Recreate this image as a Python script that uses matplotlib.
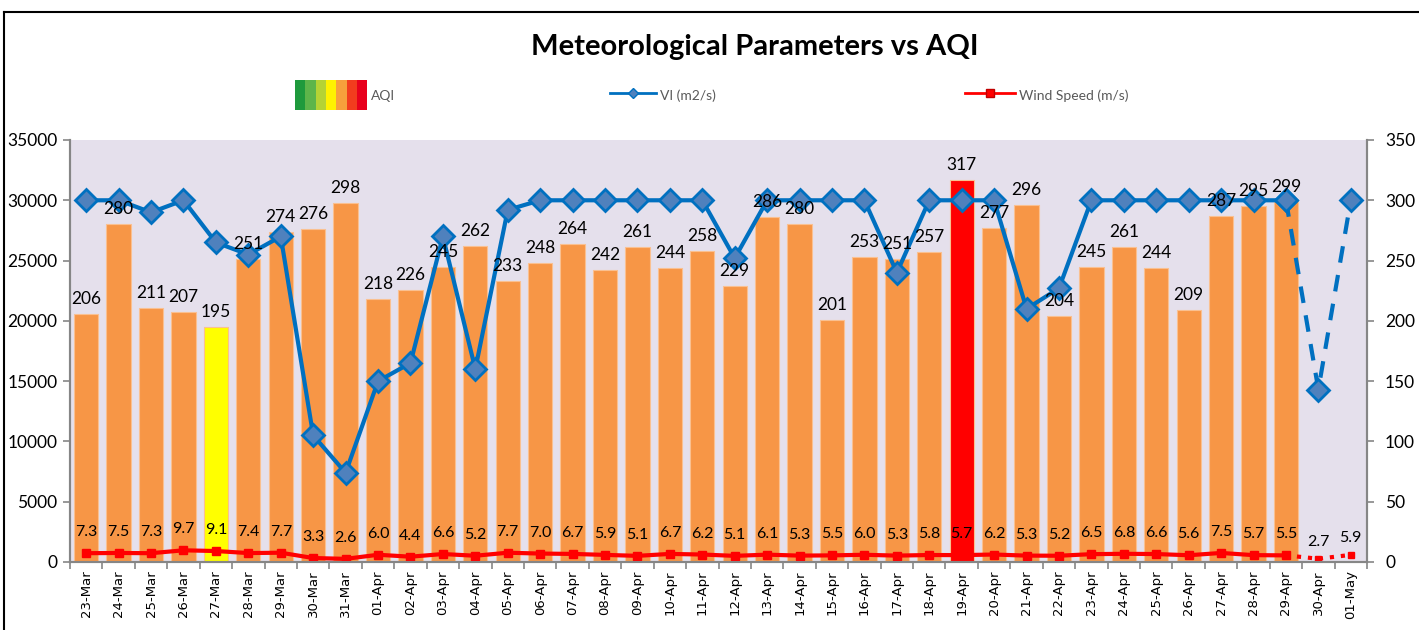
import matplotlib
matplotlib.use('Agg')
import matplotlib.pyplot as plt
from matplotlib.lines import Line2D
from matplotlib.patches import Rectangle
from matplotlib.legend_handler import HandlerBase

dates = ['23-Mar', '24-Mar', '25-Mar', '26-Mar', '27-Mar', '28-Mar', '29-Mar', '30-Mar', '31-Mar',
         '01-Apr', '02-Apr', '03-Apr', '04-Apr', '05-Apr', '06-Apr', '07-Apr', '08-Apr', '09-Apr',
         '10-Apr', '11-Apr', '12-Apr', '13-Apr', '14-Apr', '15-Apr', '16-Apr', '17-Apr', '18-Apr',
         '19-Apr', '20-Apr', '21-Apr', '22-Apr', '23-Apr', '24-Apr', '25-Apr', '26-Apr', '27-Apr',
         '28-Apr', '29-Apr', '30-Apr', '01-May']

aqi = [206, 280, 211, 207, 195, 251, 274, 276, 298, 218, 226, 245, 262, 233, 248, 264, 242, 261,
       244, 258, 229, 286, 280, 201, 253, 251, 257, 317, 277, 296, 204, 245, 261, 244, 209, 287,
       295, 299]

vi = [30000, 30000, 29000, 30000, 26500, 25500, 27000, 10500, 7400, 15000, 16500, 27000, 16000,
      29200, 30000, 30000, 30000, 30000, 30000, 30000, 25200, 30000, 30000, 30000, 30000, 24000,
      30000, 30000, 30000, 21000, 22700, 30000, 30000, 30000, 30000, 30000, 30000, 30000, 14300,
      30000]

wind = [7.3, 7.5, 7.3, 9.7, 9.1, 7.4, 7.7, 3.3, 2.6, 6.0, 4.4, 6.6, 5.2, 7.7, 7.0, 6.7, 5.9, 5.1,
        6.7, 6.2, 5.1, 6.1, 5.3, 5.5, 6.0, 5.3, 5.8, 5.7, 6.2, 5.3, 5.2, 6.5, 6.8, 6.6, 5.6, 7.5,
        5.7, 5.5, 2.7, 5.9]


def aqi_color(v):
    if v <= 200:
        return '#FFFF00'
    if v <= 300:
        return '#F79646'
    return '#FF0000'


class GradientHandler(HandlerBase):
    def create_artists(self, legend, orig_handle, xdescent, ydescent, width, height, fontsize, trans):
        cols = ['#1E9A3C', '#5DB54A', '#B5D334', '#FFF200', '#F7A03C', '#F23C1E', '#E8001C']
        w = width / len(cols)
        h = fontsize * 2.2
        y0 = -ydescent + height / 2 - h / 2
        return [Rectangle((-xdescent + i * w, y0), w, h, facecolor=c,
                          edgecolor='none', transform=trans) for i, c in enumerate(cols)]


plt.rcParams['font.family'] = ['Lato', 'DejaVu Sans']

fig = plt.figure(figsize=(14.19, 6.3), dpi=100)
ax = fig.add_axes([70 / 1419, 1 - 562 / 630, (1367 - 70) / 1419, (562 - 140) / 630])
ax2 = ax.twinx()

x = list(range(len(dates)))
n_aqi = len(aqi)

# AQI bars (right axis scale)
ax.set_facecolor('#E5E0EC')
ax.bar(x[:n_aqi], aqi, width=0.75, color=[aqi_color(v) for v in aqi],
       edgecolor='#FAC090', linewidth=0.8, zorder=2)

# wind speed
ax.plot(x[:n_aqi], wind[:n_aqi], color='#FF0000', lw=3, marker='s', ms=6, zorder=4)
ax.plot(x[n_aqi - 1:], wind[n_aqi - 1:], color='#FF0000', lw=3, ls=':', marker='s', ms=5,
        zorder=4)
for i, v in enumerate(wind):
    off = 10 if i < n_aqi else 7
    ax.annotate(f'{v:.1f}', (i, v), xytext=(0, off), textcoords='offset points',
                ha='center', va='bottom', fontsize=11.5, color='black', zorder=5)

# VI line (left axis scale)
ax2.plot(x[:n_aqi], vi[:n_aqi], color='#0070C0', lw=3, marker='D', ms=11,
         mfc='#4F81BD', mec='#0070C0', mew=2, zorder=3)
ax2.plot(x[n_aqi - 1:], vi[n_aqi - 1:], color='#0070C0', lw=3, ls=(0, (4, 3)), marker='D',
         ms=11, mfc='#4F81BD', mec='#0070C0', mew=2, zorder=3)

# AQI labels drawn on top
for i, v in enumerate(aqi):
    ax2.annotate(str(v), (i, v), xycoords=ax.transData, xytext=(0, 5),
                 textcoords='offset points', ha='center', va='bottom', fontsize=12.5,
                 color='black', zorder=6)

ax.set_xlim(-0.5, len(dates) - 0.5)
ax.set_ylim(0, 350)
ax2.set_ylim(0, 35000)

# right axis = AQI / wind, left axis = VI
ax.yaxis.tick_right()
ax2.yaxis.tick_left()
ax.set_yticks(range(0, 351, 50))
ax2.set_yticks(range(0, 35001, 5000))

ax.set_xticks(x)
ax.set_xticklabels(dates, rotation=90, fontsize=9.5, family='DejaVu Sans')
ax.set_xticks([i + 0.5 for i in range(-1, len(dates))], minor=True)
ax.tick_params(axis='x', which='major', length=0, pad=6)
ax.tick_params(axis='x', which='minor', length=5, color='#868686', width=1.2)
ax.tick_params(axis='y', length=5, color='#868686', width=1.2, labelsize=12.5, pad=8)
ax2.tick_params(axis='y', length=5, color='#868686', width=1.2, labelsize=12.5, pad=4)

for a in (ax, ax2):
    a.spines['top'].set_visible(False)
    for s in ('left', 'right', 'bottom'):
        a.spines[s].set_color('#868686')
        a.spines[s].set_linewidth(1.5)

fig.text(755 / 1419, 1 - 47 / 630, 'Meteorological Parameters vs AQI', ha='center',
         va='center', fontsize=21, fontweight='bold')

# legend entries, each placed separately like the original
leg_y = 1 - 95 / 630
entries = [
    (Rectangle((0, 0), 1, 1), 'AQI', 295, 5.2, {Rectangle: GradientHandler()}),
    (Line2D([], [], color='#0070C0', lw=2, marker='D', ms=5, mfc='#4F81BD', mec='#0070C0'),
     'VI (m2/s)', 610, 3.3, None),
    (Line2D([], [], color='#FF0000', lw=2, marker='s', ms=6, mfc='#FF0000', mec='#C00000'),
     'Wind Speed (m/s)', 965, 3.6, None),
]
for h, lab, px, hl, hmap in entries:
    leg = fig.legend([h], [lab], loc='center left', bbox_to_anchor=(px / 1419, leg_y),
                     frameon=False, fontsize=10, handlelength=hl, handleheight=1.6,
                     handletextpad=0.3, borderpad=0, borderaxespad=0, handler_map=hmap)
    for t in leg.get_texts():
        t.set_color('#595959')

# outer chart border (top and left only are visible in the original)
fig.add_artist(Line2D([4 / 1419, 4 / 1419], [0, 1 - 12 / 630], transform=fig.transFigure,
                      color='black', lw=1.5))
fig.add_artist(Line2D([4 / 1419, 1], [1 - 12 / 630, 1 - 12 / 630], transform=fig.transFigure,
                      color='black', lw=1.5))

fig.savefig('out.png', dpi=100)
